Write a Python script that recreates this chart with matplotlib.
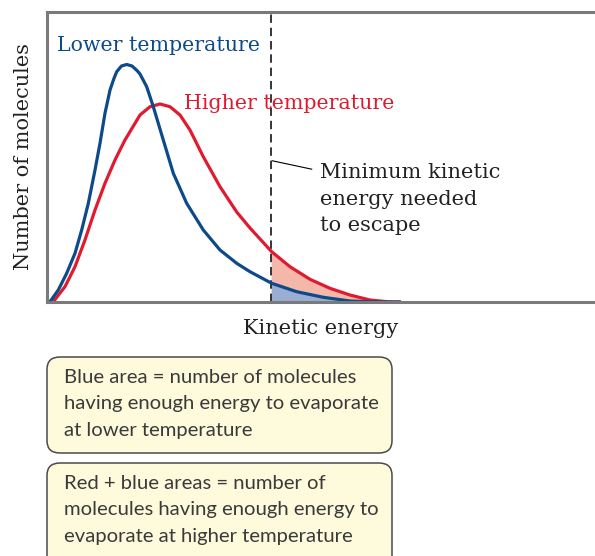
import matplotlib
matplotlib.use("Agg")
import matplotlib.pyplot as plt
import numpy as np
from matplotlib.patches import FancyBboxPatch

# Kinetic energy (arbitrary units 0-100) and number of molecules (0-100)
blue_x = [0, 0.55, 2.06, 3.59, 5.11, 6.33, 7.54, 8.76, 9.67, 10.58, 11.50, 12.20, 12.72, 13.59, 14.54,
          15.51, 16.42, 16.97, 18.19, 19.40, 21.22, 23.05, 25.49, 28.52, 31.57, 34.62, 37.04,
          41.00, 45.57, 50.42, 55.29, 60.16, 64.42]
blue_y = [0, 0.10, 4.14, 9.90, 16.79, 24.83, 34.03, 45.52, 54.72, 65.07, 73.10, 77.0, 79.41, 81.38, 81.90,
          81.38, 79.83, 78.62, 74.24, 67.34, 55.86, 44.38, 34.03, 24.83, 17.93, 13.34, 10.45,
          6.45, 3.55, 1.62, 0.34, 0.0, 0.0]
red_x = [0, 1.15, 3.28, 5.11, 6.93, 8.76, 10.58, 12.41, 14.23, 16.06, 16.97, 18.80, 20.62, 22.45,
         24.27, 26.09, 28.52, 31.57, 34.62, 37.04, 41.00, 44.34, 47.99, 51.64,
         55.29, 58.94, 62.59, 64.42]
red_y = [0, 0.10, 5.28, 12.17, 21.38, 31.72, 40.93, 48.97, 55.86, 61.62, 64.48, 67.34, 68.28, 67.34,
         64.48, 59.31, 50.10, 39.76, 31.03, 25.52, 17.34, 12.17, 7.83, 4.72,
         2.41, 0.69, 0.0, 0.0]
threshold = 40.9

x_label = "Kinetic energy"
y_label = "Number of molecules"
blue_label = "Lower temperature"
red_label = "Higher temperature"
threshold_label = "Minimum kinetic\nenergy needed\nto escape"
box1_text = "Blue area = number of molecules\nhaving enough energy to evaporate\nat lower temperature"
box2_text = "Red + blue areas = number of\nmolecules having enough energy to\nevaporate at higher temperature"

BLUE = "#0d4a8a"
RED = "#e01a2f"
BLUE_FILL = "#9aadd2"
RED_FILL = "#f3b8aa"

W, H = 595, 556
fig = plt.figure(figsize=(W / 100, H / 100), dpi=100)
fig.patch.set_facecolor("white")

def fx(px):
    return px / W

def fy(py):
    return 1 - py / H

ax = fig.add_axes([fx(47), fy(302), fx(595) - fx(47), fy(12) - fy(302)])
ax.set_xlim(0, 100)
ax.set_ylim(0, 100)

bx = np.array(blue_x); by = np.array(blue_y)
rx = np.array(red_x); ry = np.array(red_y)

# shaded areas beyond the threshold
grid = np.linspace(threshold, max(bx[-1], rx[-1]), 300)
b_on = np.interp(grid, bx, by)
r_on = np.interp(grid, rx, ry)
ax.fill_between(grid, 0, b_on, color=BLUE_FILL, lw=0, zorder=1)
ax.fill_between(grid, b_on, np.maximum(r_on, b_on), color=RED_FILL, lw=0, zorder=1)

ax.plot(rx, ry, color=RED, lw=2.3, solid_joinstyle="round", solid_capstyle="round", zorder=3)
ax.plot(bx, by, color=BLUE, lw=2.3, solid_joinstyle="round", solid_capstyle="round", zorder=4)

ax.axvline(threshold, color="black", lw=1.1, dashes=(5.5, 3.2), zorder=2)

for s in ["left", "top", "bottom"]:
    ax.spines[s].set_color("#7a7a7a")
    ax.spines[s].set_linewidth(2.2)
    ax.spines[s].set_zorder(5)
ax.spines["right"].set_visible(False)
ax.set_xticks([]); ax.set_yticks([])

serif = "DejaVu Serif"
ax.text(1.8, 88.3, blue_label, color=BLUE, fontsize=14.8, family=serif, va="center", ha="left")
ax.text(25.0, 68.3, red_label, color=RED, fontsize=14.8, family=serif, va="center", ha="left")
ax.text(49.8, 35.5, threshold_label, color="#222222", fontsize=15, family=serif,
        va="center", ha="left", linespacing=1.5)
ax.plot([threshold + 0.2, 48.3], [48.7, 45.8], color="black", lw=0.8, zorder=2)

ax.set_xlabel(x_label, fontsize=15, family=serif, color="#222222", labelpad=12)
ax.set_ylabel(y_label, fontsize=15, family=serif, color="#222222", labelpad=10)

sans = "Lato"
for (y0, y1, txt) in [(357, 453, box1_text), (463, 575, box2_text)]:
    x0, x1 = 47, 392
    patch = FancyBboxPatch((fx(x0), fy(y1)), fx(x1) - fx(x0), fy(y0) - fy(y1),
                           boxstyle="round,pad=0,rounding_size=0.022",
                           transform=fig.transFigure, facecolor="#fefbdc",
                           edgecolor="#4a4a4a", lw=1.1, clip_on=False)
    fig.patches.append(patch)
    fig.text(fx(64), fy(y0 + 47), txt, fontsize=14.6, family=sans, fontweight="normal",
             color="#3a3a3a", va="center", ha="left", linespacing=1.7)

fig.savefig("out.png", dpi=100)
